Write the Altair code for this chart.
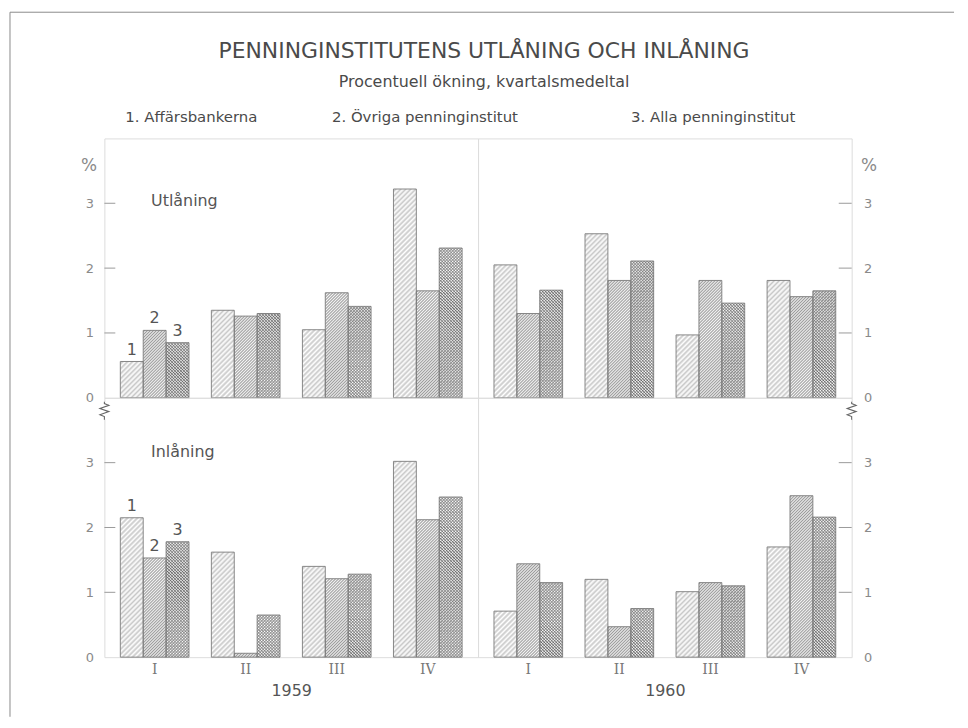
import math
import altair as alt
import pandas as pd

# ---------------- data ----------------
title_text = "PENNINGINSTITUTENS UTLÅNING OCH INLÅNING"
subtitle_text = "Procentuell ökning, kvartalsmedeltal"
series_labels = ["1. Affärsbankerna", "2. Övriga penninginstitut", "3. Alla penninginstitut"]
panels = ["Utlåning", "Inlåning"]
years = ["1959", "1960"]
quarters = ["I", "II", "III", "IV"]
series = [1, 2, 3]
y_ticks = [0, 1, 2, 3]

# values for 1959 I-IV, 1960 I-IV
utl_1 = [0.56, 1.35, 1.05, 3.22, 2.05, 2.53, 0.97, 1.81]
utl_2 = [1.04, 1.26, 1.62, 1.65, 1.30, 1.81, 1.81, 1.56]
utl_3 = [0.85, 1.30, 1.41, 2.31, 1.66, 2.11, 1.46, 1.65]
inl_1 = [2.15, 1.62, 1.40, 3.02, 0.71, 1.20, 1.01, 1.70]
inl_2 = [1.53, 0.06, 1.21, 2.12, 1.44, 0.47, 1.15, 2.49]
inl_3 = [1.78, 0.65, 1.28, 2.47, 1.15, 0.75, 1.10, 2.16]

values = {
    "Utlåning": {1: utl_1, 2: utl_2, 3: utl_3},
    "Inlåning": {1: inl_1, 2: inl_2, 3: inl_3},
}

# ---------------- layout / style ----------------
W, H = 376, 261
Y_MAX = 4
PAD_IN, PAD_OUT = 0.246, 0.175
STEP = W / (4 - PAD_IN + 2 * PAD_OUT)
BAR_W = STEP * (1 - PAD_IN) / 3
PX = H / Y_MAX            # pixels per unit
SEG_PX = 15               # hatch tile height (px)
EXT_PX = 1                # overlap between tiles (px)

FONT = "DejaVu Sans"
AXIS_TXT = "#8a8a8a"
LINE = "#7a7a7a"

ZIGZAG = "M0,-1 L0,-0.8 L0.5,-0.6 L-0.5,-0.25 L0.5,0.1 L-0.5,0.45 L0,0.65 L0,1"
GAP = "M-0.22,-0.95 L0.22,-0.95 L0.22,0.95 L-0.22,0.95 Z"

# soft hatch styles: (direction, horizontal period px, line colour, gap colour)
STYLES = {
    1: [("/", 5, "#c8c8c8", "#ffffff")],
    2: [("/", 3, "#9c9c9c", "#f4f4f4")],
    3: [("/", 3, "#888888", "#ffffff"),
        ("\\", 3, "rgba(90,90,90,0.75)", "rgba(255,255,255,0)")],
}


def hatch(h, direction, n, fg, bg):
    """Soft diagonal stripes inside a bar of width BAR_W and height h (px)."""
    w = BAR_W
    h = max(h, 0.3)
    k = h / w
    m = w * (w + h) / (w * w + h * h)
    span = w + h
    phase = 0.0 if direction == "/" else (h % n)
    pts = []
    s = phase - n
    while s < span + n:
        pts += [(s, bg), (s + n / 2, fg)]
        s += n
    stops = []
    last = -1.0
    for pos, col in pts:
        off = pos / span
        if off < 0 or off > 1:
            continue
        off = round(off, 6)
        if off <= last:
            continue
        last = off
        stops.append({"offset": off, "color": col})
    if direction == "/":
        x1, y1, x2, y2 = 0, 0, m, m * k
    else:
        x1, y1, x2, y2 = 0, 1, m, 1 - m * k
    return {"gradient": "linear", "x1": x1, "y1": y1, "x2": x2, "y2": y2, "stops": stops}


def x_enc(bottom, year):
    if bottom:
        ax = alt.Axis(
            title=year, labelAngle=0, ticks=False, tickSize=0, domain=False, grid=False,
            labelFont="DejaVu Serif", labelFontSize=14, labelColor="#777", labelPadding=5,
            titleFont=FONT, titleFontSize=16, titleFontWeight="normal", titleColor="#555",
            titlePadding=7,
        )
    else:
        ax = None
    return alt.X(
        "quarter:N",
        scale=alt.Scale(domain=quarters, paddingInner=PAD_IN, paddingOuter=PAD_OUT),
        axis=ax,
        sort=quarters,
    )


def xo_enc():
    return alt.XOffset("series:N", scale=alt.Scale(domain=series, paddingInner=0, paddingOuter=0))


def y_axis(left, top):
    kw = dict(
        orient="left" if left else "right",
        values=y_ticks, ticks=False, tickSize=0, domain=False, grid=False,
        labelFont=FONT, labelFontSize=13, labelColor=AXIS_TXT,
        labelPadding=11 if left else 12,
    )
    if top:
        kw.update(
            title="%", titleAngle=0, titleAlign="center", titleBaseline="middle",
            titleX=-16 if left else 17, titleY=27, titleFont=FONT, titleFontSize=17,
            titleFontWeight="normal", titleColor=AXIS_TXT,
        )
    else:
        kw.update(title=None)
    return alt.Axis(**kw)


def y_scale():
    return alt.Scale(domain=[0, Y_MAX], nice=False, zero=True)


def y_enc(field, left, top):
    return alt.Y(field, scale=y_scale(), axis=y_axis(left, top))


def one(text):
    return pd.DataFrame({"t": [text]})


def panel_chart(panel, year):
    yi = years.index(year)
    top = panel == panels[0]
    left = yi == 0
    layers = []
    X = x_enc(not top, year)
    seg_u = SEG_PX / PX
    ext_u = EXT_PX / PX

    for s in series:
        full_rows = []
        partial = []
        for qi, q in enumerate(quarters):
            v = values[panel][s][yi * 4 + qi]
            h = v * PX
            n_full = int(h // SEG_PX)
            rem = h - n_full * SEG_PX
            if rem < 1.0 and n_full > 0:
                n_full -= 1
                rem += SEG_PX
            for i in range(n_full):
                full_rows.append({"quarter": q, "series": s,
                                  "top": v - i * seg_u,
                                  "bottom": v - (i + 1) * seg_u - ext_u})
            partial.append(({"quarter": q, "series": s,
                             "top": v - n_full * seg_u, "bottom": 0.0}, rem))
        for style in STYLES[s]:
            if full_rows:
                g = hatch(SEG_PX + EXT_PX, *style)
                layers.append(
                    alt.Chart(pd.DataFrame(full_rows)).mark_bar(fill=g, strokeWidth=0).encode(
                        x=X, xOffset=xo_enc(),
                        y=alt.Y("top:Q", scale=y_scale(), axis=y_axis(left, top)),
                        y2="bottom:Q",
                    )
                )
            for row, rem in partial:
                g = hatch(rem, *style)
                layers.append(
                    alt.Chart(pd.DataFrame([row])).mark_bar(fill=g, strokeWidth=0).encode(
                        x=X, xOffset=xo_enc(),
                        y=alt.Y("top:Q", scale=y_scale(), axis=y_axis(left, top)),
                        y2="bottom:Q",
                    )
                )

    # bar outlines
    bar_df = pd.DataFrame(
        [{"quarter": q, "series": s, "value": values[panel][s][yi * 4 + qi]}
         for qi, q in enumerate(quarters) for s in series]
    )
    layers.append(
        alt.Chart(bar_df).mark_bar(fillOpacity=0, stroke=LINE, strokeWidth=0.9).encode(
            x=X, xOffset=xo_enc(), y=y_enc("value:Q", left, top)
        )
    )

    # inward tick marks
    tick_df = pd.DataFrame({"t": y_ticks[1:]})
    if left:
        tx = dict(x=alt.value(0), x2=alt.value(11))
    else:
        tx = dict(x=alt.value(W - 13), x2=alt.value(W))
    layers.append(
        alt.Chart(tick_df).mark_rule(color="#9a9a9a", strokeWidth=1).encode(
            y=y_enc("t:Q", left, top), **tx
        )
    )

    if left:
        layers.append(
            alt.Chart(one(panel)).mark_text(
                font=FONT, fontSize=16, color="#555", align="left", baseline="middle"
            ).encode(text="t:N", x=alt.value(47), y=alt.value(63 if top else 55))
        )
        num_df = bar_df[bar_df["quarter"] == quarters[0]]
        layers.append(
            alt.Chart(num_df).mark_text(
                font=FONT, fontSize=16, color="#555", baseline="bottom", dy=-4
            ).encode(
                x=X, xOffset=xo_enc(),
                y=y_enc("value:Q", left, top), text="series:N",
            )
        )

    if top and left:
        # page frame (top and left edges)
        layers.append(
            alt.Chart(one("frame")).mark_rule(color="#8a8a8a", strokeWidth=1).encode(
                x=alt.value(-95), x2=alt.value(855), y=alt.value(-127)
            )
        )
        layers.append(
            alt.Chart(one("frame")).mark_rule(color="#8a8a8a", strokeWidth=1).encode(
                x=alt.value(-95), y=alt.value(-127), y2=alt.value(582)
            )
        )
        layers.append(
            alt.Chart(one(title_text)).mark_text(
                font=FONT, fontSize=22, color="#4a4a4a", align="center", baseline="middle"
            ).encode(text="t:N", x=alt.value(382), y=alt.value(-88))
        )
        layers.append(
            alt.Chart(one(subtitle_text)).mark_text(
                font=FONT, fontSize=16, color="#4a4a4a", align="center", baseline="middle"
            ).encode(text="t:N", x=alt.value(382), y=alt.value(-57))
        )
        leg_x = [21, 229, 530]
        for lab, lx in zip(series_labels, leg_x):
            layers.append(
                alt.Chart(one(lab)).mark_text(
                    font=FONT, fontSize=15, color="#4a4a4a", align="left", baseline="middle"
                ).encode(text="t:N", x=alt.value(lx), y=alt.value(-22))
            )

    if not top:
        # axis break marks: white gap in the frame line, then a zigzag
        bx = 0 if left else W
        layers.append(
            alt.Chart(one("gap")).mark_point(
                shape=GAP, filled=True, color="white", opacity=1, strokeWidth=0, size=324
            ).encode(x=alt.value(bx), y=alt.value(13))
        )
        layers.append(
            alt.Chart(one("break")).mark_point(
                shape=ZIGZAG, filled=False, color="#666", opacity=1, strokeWidth=1.1, size=324
            ).encode(x=alt.value(bx), y=alt.value(13))
        )

    return alt.layer(*layers).properties(width=W, height=H)


charts = [panel_chart(p, y) for p in panels for y in years]

chart = (
    alt.concat(*charts, columns=2, spacing=0, bounds="flush")
    .properties(padding={"left": 1, "top": 1, "right": 5, "bottom": 5})
    .configure_view(stroke=LINE, strokeWidth=1)
    .configure(background="white")
)

chart.save("out.html", embed_options={"renderer": "svg", "actions": False})
